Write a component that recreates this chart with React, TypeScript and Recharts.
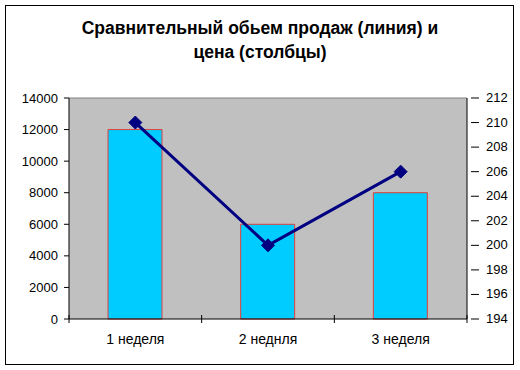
import React from "react";
import {
  ComposedChart,
  Bar,
  Line,
  XAxis,
  YAxis,
  CartesianGrid,
} from "recharts";

const weeks = ["1 неделя", "2 неднля", "3 неделя"];
const barValues = [12000, 6000, 8000];
const lineValues = [210, 200, 206];
const leftTicks = [0, 2000, 4000, 6000, 8000, 10000, 12000, 14000];
const rightTicks = [194, 196, 198, 200, 202, 204, 206, 208, 210, 212];

const data = weeks.map((w, i) => ({ week: w, bars: barValues[i], line: lineValues[i] }));

const FONT = "Arial, 'Liberation Sans', sans-serif";
const PLOT_W = 398;

const Diamond = (props: any) => {
  const { cx, cy } = props;
  if (cx == null || cy == null) return null;
  const r = 6.5;
  return (
    <polygon
      points={`${cx},${cy - r} ${cx + r},${cy} ${cx},${cy + r} ${cx - r},${cy}`}
      fill="#000080"
      stroke="#000080"
    />
  );
};

const RightTick = (props: any) => {
  const { x, y, payload } = props;
  return (
    <g>
      <line x1={x - 4} x2={x + 4} y1={y} y2={y} stroke="#000" />
      <text x={x + 11} y={y} dy={4} fontSize={13} fontFamily={FONT} fill="#000">
        {payload.value}
      </text>
    </g>
  );
};

const BottomTick = (props: any) => {
  const { x, y, payload, index } = props;
  const band = PLOT_W / weeks.length;
  const axisY = y - 8;
  return (
    <g>
      <line x1={x - band / 2} x2={x - band / 2} y1={axisY - 4} y2={axisY + 4} stroke="#000" />
      {index === weeks.length - 1 && (
        <line x1={x + band / 2} x2={x + band / 2} y1={axisY - 4} y2={axisY + 4} stroke="#000" />
      )}
      <text x={x} y={axisY + 25} textAnchor="middle" fontSize={14} fontFamily={FONT} fill="#000">
        {payload.value}
      </text>
    </g>
  );
};

export default function App() {
  return (
    <div style={{ position: "absolute", left: 0, top: 0, width: 520, height: 370, background: "#fff" }}>
      <div
        style={{
          position: "absolute",
          left: 5,
          top: 5,
          width: 509,
          height: 360,
          border: "1px solid #000",
          boxSizing: "border-box",
        }}
      />
      <div
        style={{
          position: "absolute",
          left: 0,
          top: 16,
          width: 520,
          textAlign: "center",
          fontFamily: FONT,
          fontWeight: "bold",
          fontSize: 17.5,
          lineHeight: "24px",
          color: "#000",
        }}
      >
        Сравнительный обьем продаж (линия) и
        <br />
        цена (столбцы)
      </div>
      <div style={{ position: "absolute", left: 0, top: 0 }}>
        <ComposedChart
          width={520}
          height={370}
          data={data}
          margin={{ top: 98, right: 8, bottom: 21, left: 9 }}
          barCategoryGap="30%"
        >
          <CartesianGrid
            fill="#c0c0c0"
            stroke="#808080"
            vertical={false}
            horizontalCoordinatesGenerator={({ offset }: any) => [offset.top]}
          />
          <XAxis
            dataKey="week"
            height={30}
            axisLine={{ stroke: "#000" }}
            tickLine={false}
            tick={<BottomTick />}
            interval={0}
          />
          <YAxis
            yAxisId="left"
            width={60}
            domain={[0, 14000]}
            ticks={leftTicks}
            interval={0}
            axisLine={{ stroke: "#000" }}
            tickLine={{ stroke: "#000" }}
            tickSize={5}
            tickMargin={6}
            tick={{ fontSize: 13, fontFamily: FONT, fill: "#000" }}
          />
          <YAxis
            yAxisId="right"
            orientation="right"
            width={45}
            domain={[194, 212]}
            ticks={rightTicks}
            interval={0}
            axisLine={{ stroke: "#000" }}
            tickLine={false}
            tick={<RightTick />}
          />
          <Bar
            yAxisId="left"
            dataKey="bars"
            fill="#00ccff"
            stroke="#e0403a"
            strokeWidth={1}
            barSize={54}
            isAnimationActive={false}
          />
          <Line
            yAxisId="right"
            dataKey="line"
            stroke="#000080"
            strokeWidth={3}
            dot={<Diamond />}
            activeDot={false}
            isAnimationActive={false}
          />
        </ComposedChart>
      </div>
    </div>
  );
}
